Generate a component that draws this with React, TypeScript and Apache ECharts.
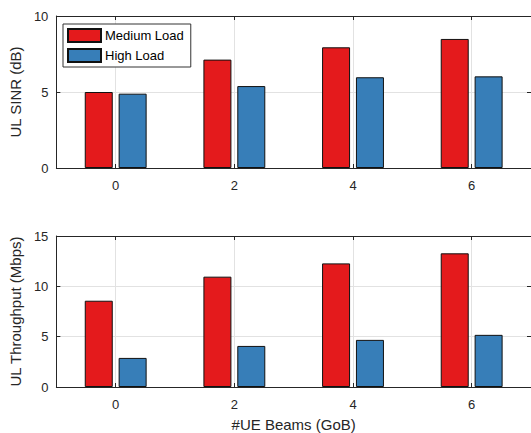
import React, { useEffect, useRef } from "react";
import * as echarts from "echarts";

const categories = ["0", "2", "4", "6"];
const seriesNames = ["Medium Load", "High Load"];
const sinrMedium = [5.0, 7.13, 7.94, 8.49];
const sinrHigh = [4.89, 5.39, 5.97, 6.03];
const tputMedium = [8.57, 10.96, 12.28, 13.28];
const tputHigh = [2.89, 4.08, 4.68, 5.18];
const sinrAxis = [0, 10, 5];
const tputAxis = [0, 15, 5];
const xGridPoints = ["-1", "0", "1", "2", "3", "4", "5", "6", "7"];

const FONT = "Liberation Sans";
const AX = "#262626";
const GRIDC = "#e2e2e2";
const RED = "#e41a1c";
const BLUE = "#377eb8";

export default function App() {
  const ref = useRef<HTMLDivElement>(null);
  useEffect(() => {
    if (!ref.current) return;
    const chart = echarts.init(ref.current, undefined, { renderer: "svg" });
    const grids = [
      { left: 53, top: 16, width: 481, height: 152 },
      { left: 53, top: 236, width: 481, height: 151 },
    ];
    const xAxis: any[] = [];
    const yAxis: any[] = [];
    const series: any[] = [];
    const plots = [
      { axis: sinrAxis, name: "UL SINR (dB)", med: sinrMedium, high: sinrHigh, xname: "" },
      { axis: tputAxis, name: "UL Throughput (Mbps)", med: tputMedium, high: tputHigh, xname: "#UE Beams (GoB)" },
    ];
    plots.forEach((p, gi) => {
      const base = xAxis.length;
      xAxis.push({
        type: "category",
        gridIndex: gi,
        data: categories,
        position: "bottom",
        axisLine: { show: true, onZero: false, lineStyle: { color: AX, width: 1 } },
        axisTick: { show: true, inside: true, alignWithLabel: true, length: 4, lineStyle: { color: AX } },
        axisLabel: { color: AX, fontFamily: FONT, fontSize: 13, margin: 11 },
        splitLine: { show: false },
        name: p.xname,
        nameLocation: "middle",
        nameGap: 30,
        nameTextStyle: { color: AX, fontFamily: FONT, fontSize: 15 },
      });
      xAxis.push({
        type: "category",
        gridIndex: gi,
        data: categories,
        position: "top",
        axisLine: { show: true, onZero: false, lineStyle: { color: AX, width: 1 } },
        axisTick: { show: true, inside: true, alignWithLabel: true, length: 4, lineStyle: { color: AX } },
        axisLabel: { show: false },
        splitLine: { show: false },
      });
      // helper axis for vertical grid lines at the category ticks
      xAxis.push({
        type: "category",
        gridIndex: gi,
        data: xGridPoints,
        boundaryGap: false,
        position: "bottom",
        axisLine: { show: false, onZero: false },
        axisTick: { show: false },
        axisLabel: { show: false },
        splitLine: {
          show: true,
          interval: (i: number) => i % 2 === 1,
          lineStyle: { color: GRIDC, width: 1 },
        },
      });
      const yb = yAxis.length;
      yAxis.push({
        type: "value",
        gridIndex: gi,
        min: p.axis[0],
        max: p.axis[1],
        interval: p.axis[2],
        position: "left",
        axisLine: { show: true, onZero: false, lineStyle: { color: AX, width: 1 } },
        axisTick: { show: true, inside: true, length: 4, lineStyle: { color: AX } },
        axisLabel: { color: AX, fontFamily: FONT, fontSize: 13, margin: 8 },
        splitLine: { show: true, lineStyle: { color: GRIDC, width: 1 } },
        name: p.name,
        nameLocation: "middle",
        nameGap: 27,
        nameRotate: 90,
        nameTextStyle: { color: AX, fontFamily: FONT, fontSize: 15 },
      });
      yAxis.push({
        type: "value",
        gridIndex: gi,
        min: p.axis[0],
        max: p.axis[1],
        interval: p.axis[2],
        position: "right",
        axisLine: { show: true, onZero: false, lineStyle: { color: AX, width: 1 } },
        axisTick: { show: true, inside: true, length: 4, lineStyle: { color: AX } },
        axisLabel: { show: false },
        splitLine: { show: false },
      });
      [p.med, p.high].forEach((vals, si) => {
        series.push({
          type: "bar",
          name: seriesNames[si],
          xAxisIndex: base,
          yAxisIndex: yb,
          data: vals,
          barWidth: 28,
          barGap: "21%",
          itemStyle: { color: si === 0 ? RED : BLUE, borderColor: "#111", borderWidth: 1 },
        });
      });
    });

    chart.setOption({
      animation: false,
      backgroundColor: "#ffffff",
      grid: grids,
      xAxis,
      yAxis,
      series,
      legend: {
        data: seriesNames,
        orient: "vertical",
        left: 63,
        top: 24,
        padding: [4, 7, 4, 4],
        itemWidth: 33,
        itemHeight: 13,
        itemGap: 5,
        icon: "rect",
        selectedMode: false,
        backgroundColor: "#ffffff",
        borderColor: "#333333",
        borderWidth: 1,
        borderRadius: 0,
        textStyle: { color: "#000", fontFamily: FONT, fontSize: 13, padding: [0, 0, 0, -1] },
        z: 10,
      },
    });
    return () => chart.dispose();
  }, []);
  return (
    <div
      ref={ref}
      style={{ position: "fixed", left: 0, top: 0, width: 531, height: 433, background: "#fff" }}
    />
  );
}
